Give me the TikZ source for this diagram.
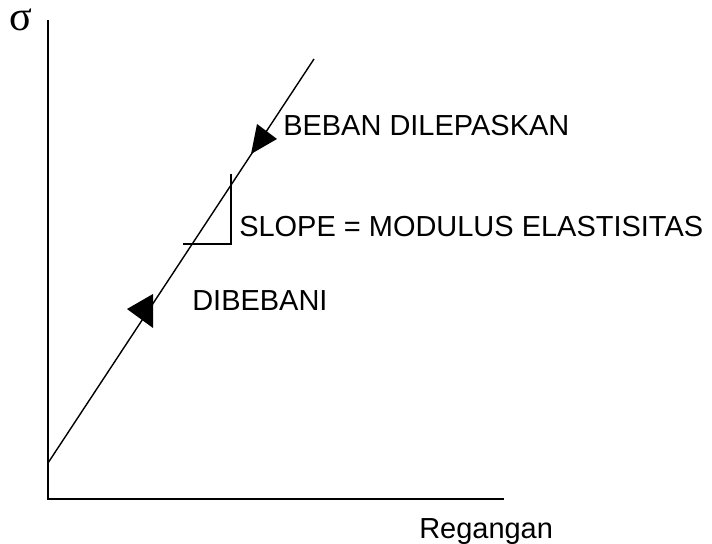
\documentclass[tikz,border=0pt]{standalone}
\usepackage{fontspec}
\setmainfont{Liberation Sans}
\newfontfamily\sigmafont{Liberation Serif}
\begin{document}
\begin{tikzpicture}[x=0.025cm, y=-0.025cm, font=\fontsize{20.6}{24}\selectfont,
    lbl/.style={anchor=base west, inner sep=0pt},
    head/.style={fill=black, draw=none}]
  \useasboundingbox (0,0) rectangle (712,544);

  % Axes
  \coordinate (ytop) at (48,20);
  \coordinate (origin) at (48,499);
  \coordinate (xend) at (504,499);
  \draw[line width=1.5pt] (ytop) -- (origin) -- (xend);
  \node[lbl, font=\sigmafont\fontsize{30}{32}\selectfont] (sigma) at (9,31) {σ};
  \node[lbl] (regangan) at (419,538) {Regangan};

  % Elastic line
  \coordinate (lstart) at (48,463);
  \coordinate (lend) at (314,59);
  \draw[line width=1pt] (lstart) -- (lend);

  % Slope triangle
  \coordinate (tA) at (231,174);
  \coordinate (tB) at (231,244);
  \coordinate (tC) at (183,244);
  \draw[line width=0.8pt] (tA) -- (tB) -- (tC);
  \node[lbl] (slope) at (239,237) {SLOPE = MODULUS ELASTISITAS};

  % Unloading (down the line)
  \fill[head] (251,154) -- (257,124) -- (277,139) -- cycle;
  \node[lbl] (unload) at (283,136) {BEBAN DILEPASKAN};

  % Loading (up the line)
  \fill[head] (153,294) -- (127,309) -- (153,328) -- cycle;
  \node[lbl] (load) at (192,311) {DIBEBANI};
\end{tikzpicture}
\end{document}
